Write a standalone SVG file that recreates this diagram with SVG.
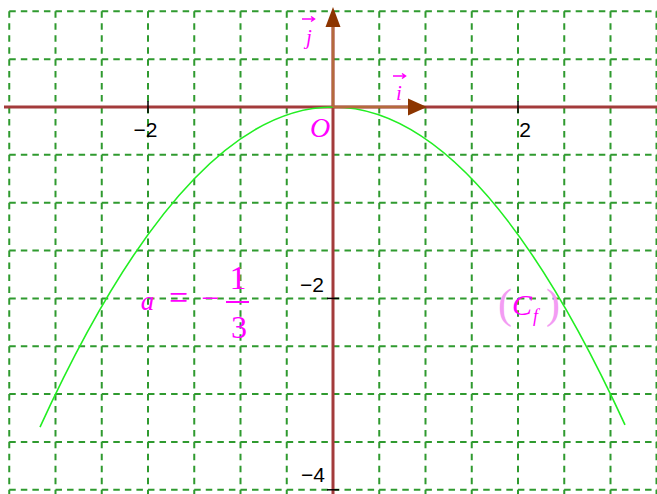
<svg xmlns="http://www.w3.org/2000/svg" width="657" height="494" viewBox="0 0 657 494">
<style>
.gh{stroke:#2f9a2f;stroke-width:2;stroke-dasharray:6.5 5.06;fill:none}
.gv{stroke:#2f9a2f;stroke-width:2;stroke-dasharray:6.5 5.46;fill:none}
.ax{stroke:#a33b3b;stroke-width:3;fill:none}
.vec{stroke:#b46a3c;stroke-width:2.5;fill:none}
.head{fill:#8c3500}
.tick{stroke:#000;stroke-width:1.5}
.num{font-family:"Liberation Sans",Arial,sans-serif;font-size:21px;fill:#000}
.mag{font-family:"Liberation Serif","Times New Roman",serif;fill:#ff00ff}
.par{font-family:"Liberation Serif","Times New Roman",serif;fill:#f39cf3}
.it{font-style:italic}
</style>
<rect width="657" height="494" fill="#fff"/>
<g id="grid">
<path class="gh" d="M9.25,11.3H657M9.25,59.15H657M9.25,154.85H657M9.25,202.7H657M9.25,250.55H657M9.25,298.4H657M9.25,346.25H657M9.25,394.1H657M9.25,441.95H657M9.25,489.8H657"/>
<path class="gv" d="M9.25,11.3V494M55.5,11.3V494M101.75,11.3V494M148,11.3V494M194.25,11.3V494M240.5,11.3V494M286.75,11.3V494M379.25,11.3V494M425.5,11.3V494M471.75,11.3V494M518,11.3V494M564.25,11.3V494M610.5,11.3V494M656.5,11.3V494"/>
</g>
<g id="axes">
<line class="ax" x1="4" y1="107" x2="657" y2="107"/>
<line class="ax" x1="333" y1="20" x2="333" y2="494"/>
<line class="tick" x1="148" y1="101" x2="148" y2="113"/>
<line class="tick" x1="518" y1="101" x2="518" y2="113"/>
<line class="tick" x1="327" y1="298.4" x2="339" y2="298.4"/>
<line class="tick" x1="327" y1="489.8" x2="339" y2="489.8"/>
<text class="num" x="145.5" y="137" text-anchor="middle">−2</text>
<text class="num" x="525" y="137" text-anchor="middle">2</text>
<text class="num" x="324" y="292" text-anchor="end">−2</text>
<text class="num" x="325" y="482" text-anchor="end">−4</text>
</g>
<g id="curve">
<path d="M40,427.1 Q332.5,-211.97 625,424.9" fill="none" stroke="#22ee22" stroke-width="1.6"/>
</g>
<g id="vectors">
<line class="vec" x1="333" y1="107" x2="410" y2="107"/>
<polygon class="head" points="408,98.5 427,107 408,115.5"/>
<line class="vec" x1="333" y1="107" x2="333" y2="25"/>
<polygon class="head" points="325.5,27 333,7 340.5,27"/>
</g>
<g id="labels">
<text class="mag it" x="320" y="137" font-size="28" text-anchor="middle">O</text>
<text class="mag it" x="309" y="44" font-size="21" text-anchor="middle">j</text>
<path d="M302,19H314M311,16.5L314.5,19L311,21.5" stroke="#ff00ff" stroke-width="1.5" fill="none"/>
<text class="mag it" x="399" y="100" font-size="21" text-anchor="middle">i</text>
<path d="M393,76H405M402,73.5L405.5,76L402,78.5" stroke="#ff00ff" stroke-width="1.5" fill="none"/>
<text class="mag it" x="147.5" y="310" font-size="27" text-anchor="middle">a</text>
<text class="mag" x="178.5" y="309" font-size="34" text-anchor="middle">=</text>
<text class="mag" x="210" y="309" font-size="32" text-anchor="middle">−</text>
<line x1="226" y1="302" x2="249" y2="302" stroke="#ff00ff" stroke-width="2"/>
<text class="mag" x="238" y="289" font-size="34" text-anchor="middle">1</text>
<text class="mag" x="239" y="338" font-size="32" text-anchor="middle">3</text>
<text class="par" x="498" y="318" font-size="42">(</text>
<text class="mag it" x="512" y="315" font-size="30">C</text>
<text class="mag it" x="533" y="322" font-size="18">f</text>
<text class="par" x="546" y="318" font-size="42">)</text>
</g>
</svg>
